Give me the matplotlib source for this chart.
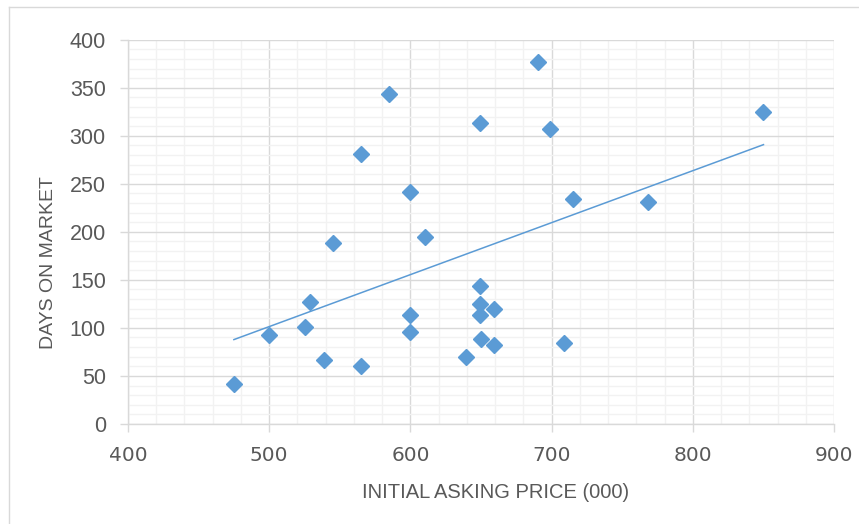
#!/usr/bin/env python3

import matplotlib.pyplot as plt
import numpy as np
from matplotlib.lines import Line2D
from matplotlib.ticker import MultipleLocator

#-----------------------------------------------------------------------------#
# data

price = [475, 500, 525, 529, 539, 545, 565, 565, 585, 600, 600, 600, 610, 639,
         649, 649, 649, 649, 650, 659, 659, 690, 699, 709, 715, 768, 850]
days = [42, 93, 101, 127, 67, 188, 60, 281, 344, 96, 113, 242, 195, 70,
        313, 144, 125, 113, 88, 82, 120, 377, 307, 84, 234, 231, 325]

x_label = 'INITIAL ASKING PRICE (000)'
y_label = 'DAYS ON MARKET'

#-----------------------------------------------------------------------------#
# plot

blue = '#5B9BD5'
grey_txt = '#595959'
label_font = 'Liberation Sans'

fig = plt.figure(figsize=(8.59, 5.24), dpi=100)
ax = fig.add_axes([0.149, 0.191, 0.822, 0.733])

ax.plot(price, days, 'D', ms=8.3, color=blue, mec=blue, zorder=3)

# linear trendline
k, d = np.polyfit(price, days, 1)
tx = np.array([min(price), max(price)])
ax.plot(tx, k * tx + d, '-', color=blue, lw=1.1, zorder=2)

ax.set_xlim(400, 900)
ax.set_ylim(0, 400)
ax.xaxis.set_major_locator(MultipleLocator(100))
ax.xaxis.set_minor_locator(MultipleLocator(20))
ax.yaxis.set_major_locator(MultipleLocator(50))
ax.yaxis.set_minor_locator(MultipleLocator(10))

ax.grid(True, which='minor', color='#F2F2F2', lw=1.0, zorder=0)
ax.grid(True, which='major', color='#D9D9D9', lw=1.0, zorder=1)
ax.set_axisbelow(True)

for s in ['top', 'right']:
    ax.spines[s].set_visible(False)
for s in ['left', 'bottom']:
    ax.spines[s].set_color('#D9D9D9')
    ax.spines[s].set_linewidth(1.0)

ax.tick_params(which='major', length=6, color='#D9D9D9', width=1.0,
               labelcolor=grey_txt)
ax.tick_params(axis='x', pad=10)
ax.tick_params(axis='y', pad=10)
ax.tick_params(which='minor', length=0)
for lbl in ax.get_xticklabels():
    lbl.set_family('DejaVu Sans')
    lbl.set_fontsize(14.5)
for lbl in ax.get_yticklabels():
    lbl.set_family(label_font)
    lbl.set_fontsize(15.5)

ax.set_xlabel(x_label, family=label_font, fontsize=14.5, color=grey_txt)
ax.set_ylabel(y_label, family=label_font, fontsize=14, color=grey_txt)
ax.xaxis.set_label_coords(0.52, -0.155)
ax.yaxis.set_label_coords(-0.1, 0.42)

# chart frame (only top and left edges are inside the picture)
fig.add_artist(Line2D([9 / 859, 1], [1 - 7 / 524, 1 - 7 / 524],
                      transform=fig.transFigure, color='#D9D9D9', lw=1.0))
fig.add_artist(Line2D([9 / 859, 9 / 859], [0, 1 - 7 / 524],
                      transform=fig.transFigure, color='#D9D9D9', lw=1.0))

fig.savefig('out.png', dpi=100)
